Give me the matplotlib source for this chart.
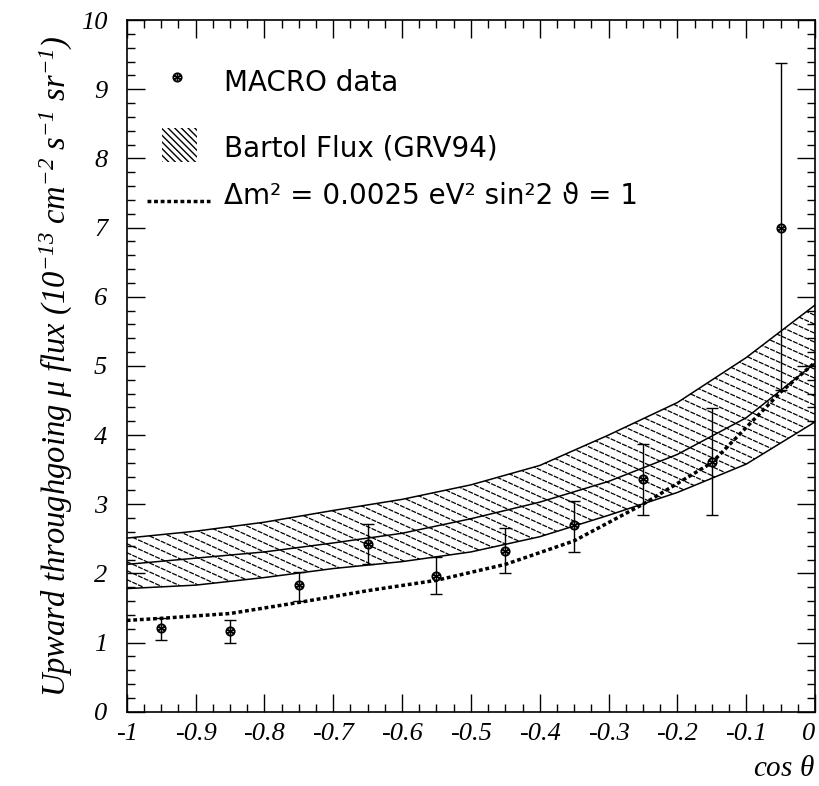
import matplotlib
matplotlib.use("Agg")
import matplotlib.pyplot as plt
import numpy as np
from matplotlib.ticker import MultipleLocator
from matplotlib.collections import LineCollection

# MACRO data points (cos theta bin centres)
cos_pts = [-0.95, -0.85, -0.75, -0.65, -0.55, -0.45, -0.35, -0.25, -0.15, -0.05]
flux = [1.21, 1.16, 1.83, 2.43, 1.96, 2.33, 2.70, 3.37, 3.61, 6.99]
flux_lo = [1.03, 1.00, 1.60, 2.14, 1.70, 2.01, 2.31, 2.84, 2.84, 4.65]
flux_hi = [1.36, 1.33, 2.02, 2.71, 2.23, 2.66, 3.05, 3.87, 4.39, 9.38]

# Bartol flux band
band_x = [-1.0, -0.9, -0.8, -0.7, -0.6, -0.5, -0.4, -0.3, -0.2, -0.1, 0.0]
band_hi = [2.51, 2.61, 2.74, 2.91, 3.07, 3.28, 3.56, 4.00, 4.47, 5.12, 5.88]
band_mid = [2.13, 2.22, 2.31, 2.44, 2.58, 2.79, 3.03, 3.33, 3.72, 4.25, 5.04]
band_lo = [1.78, 1.83, 1.94, 2.07, 2.17, 2.31, 2.53, 2.84, 3.17, 3.58, 4.19]

# oscillation expectation
osc_x = [-1.0, -0.95, -0.85, -0.75, -0.65, -0.55, -0.45, -0.35, -0.25, -0.15, -0.05, 0.0]
osc_y = [1.32, 1.35, 1.42, 1.58, 1.75, 1.90, 2.13, 2.47, 3.00, 3.60, 4.62, 5.05]

plt.rcParams['mathtext.fontset'] = 'custom'
plt.rcParams['mathtext.rm'] = 'Liberation Serif:italic'
plt.rcParams['mathtext.it'] = 'Liberation Serif:italic'

fig = plt.figure(figsize=(8.2, 7.86), dpi=100)
ax = fig.add_axes([0.1545, 0.0945, 0.8395, 0.880])

# band with hand made hatching (shallow slanted lines)
poly = ax.fill_between(band_x, band_lo, band_hi, facecolor='none', edgecolor='none')
ax.plot(band_x, band_hi, color='black', lw=1.1)
ax.plot(band_x, band_lo, color='black', lw=1.1)
ax.plot(band_x, band_mid, color='black', lw=1.1)
slope = -4.5
segs = []
for c in np.arange(1.0, 11.0, 0.13):
    segs.append([(-1.0, c), (0.0, c + slope)])
hatch = LineCollection(segs, colors='black', linewidths=0.9, linestyles=(0, (4, 1)))
ax.add_collection(hatch)
hatch.set_clip_path(poly.get_paths()[0], ax.transData)

# oscillated expectation
ax.plot(osc_x, osc_y, color='black', lw=2.5, linestyle=(0, (1.1, 0.8)))

# data points
fl = np.array(flux)
yerr = [fl - np.array(flux_lo), np.array(flux_hi) - fl]
ax.errorbar(cos_pts, flux, yerr=yerr, fmt='none', ecolor='black', elinewidth=1.0,
            capsize=4, capthick=1.0)
ax.plot(cos_pts, flux, 'o', ms=6, mfc='white', mec='black', mew=1.3)
ax.plot(cos_pts, flux, marker=(6, 2, 0), ls='none', ms=5, color='black', mew=1.0)

ax.set_xlim(-1, 0)
ax.set_ylim(0, 10)
ax.xaxis.set_major_locator(MultipleLocator(0.1))
ax.xaxis.set_minor_locator(MultipleLocator(0.025))
ax.yaxis.set_major_locator(MultipleLocator(1))
ax.yaxis.set_minor_locator(MultipleLocator(0.2))
ax.tick_params(which='both', direction='in', top=True, right=True, width=1.0)
ax.tick_params(which='major', length=13)
ax.tick_params(which='minor', length=6)
ax.tick_params(axis='x', which='major', pad=8)
ax.tick_params(axis='y', which='major', pad=14)
for s in ax.spines.values():
    s.set_linewidth(1.2)

ax.set_xticks([-1, -0.9, -0.8, -0.7, -0.6, -0.5, -0.4, -0.3, -0.2, -0.1, 0])
ax.set_xticklabels(['-1', '-0.9', '-0.8', '-0.7', '-0.6', '-0.5', '-0.4', '-0.3',
                    '-0.2', '-0.1', '0'])
for lab in ax.get_xticklabels() + ax.get_yticklabels():
    lab.set_family('Liberation Serif')
    lab.set_style('italic')
    lab.set_fontsize(19)
ax.get_xticklabels()[-1].set_horizontalalignment('right')

ax.set_ylabel(r'Upward throughgoing $\mu$ flux (10$^{-13}$ cm$^{-2}$ s$^{-1}$ sr$^{-1}$)',
              family='Liberation Serif', style='italic', fontsize=23.5, labelpad=4)
ax.set_xlabel(r'cos $\theta$', family='Liberation Serif', style='italic', fontsize=21,
              loc='right', labelpad=8)

# legend drawn by hand
leg_font = dict(family='DejaVu Sans', fontsize=20, va='center',
                transform=ax.transAxes)
ax.plot([0.073], [0.917], 'o', ms=6, mfc='white', mec='black', mew=1.3, transform=ax.transAxes)
ax.plot([0.073], [0.917], marker=(6, 2, 0), ms=5, color='black', mew=1.0, transform=ax.transAxes)
ax.text(0.142, 0.909, 'MACRO data', **leg_font)
box = plt.Rectangle((0.051, 0.795), 0.051, 0.049, transform=ax.transAxes,
                    facecolor='none', edgecolor='black', hatch='\\\\\\\\\\', lw=0)
ax.add_patch(box)
ax.text(0.142, 0.814, 'Bartol Flux (GRV94)', **leg_font)
ax.plot([0.030, 0.121], [0.739, 0.739], color='black', lw=2.5, linestyle=(0, (1.1, 0.8)),
        transform=ax.transAxes)
ax.text(0.142, 0.746, 'Δm² = 0.0025 eV² sin²2 ϑ = 1', **leg_font)

fig.savefig('out.png', dpi=100)
